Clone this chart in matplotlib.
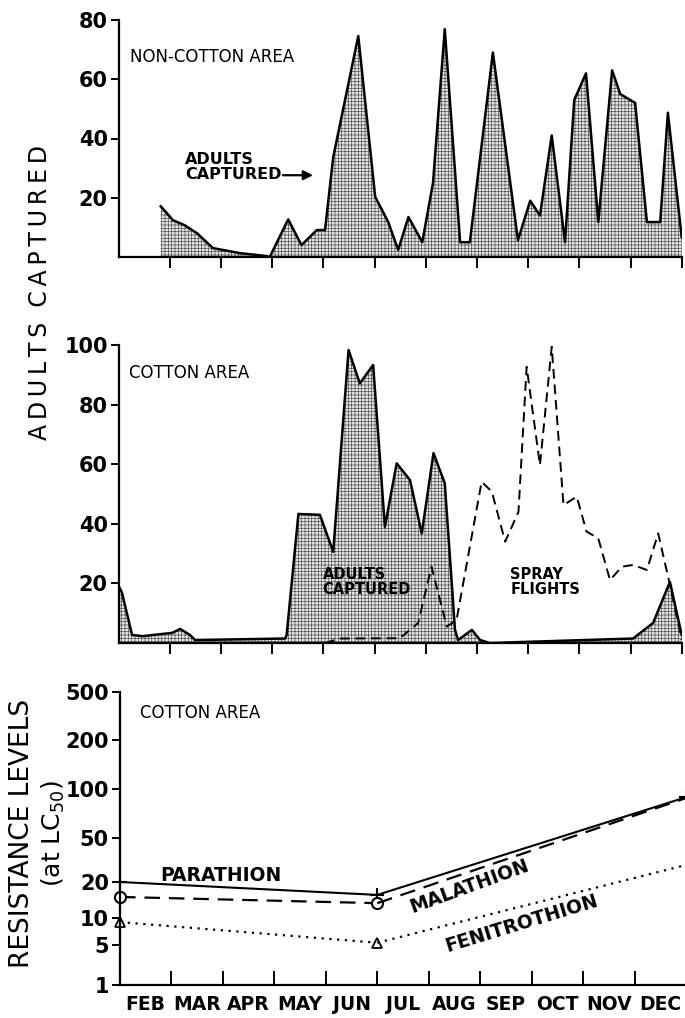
import numpy as np
import matplotlib
matplotlib.use("Agg")
import matplotlib.pyplot as plt

# months on x: 0 = start of Feb ... 11 = end of Dec
month_labels = ['FEB', 'MAR', 'APR', 'MAY', 'JUN', 'JUL', 'AUG', 'SEP', 'OCT', 'NOV', 'DEC']

# non-cotton area, adults captured
nc_x = [0.82, 1.06, 1.29, 1.53, 1.84, 2.37, 2.90, 2.95, 3.31, 3.57, 3.87, 4.03, 4.19, 4.68,
        5.01, 5.26, 5.46, 5.66, 5.93, 6.14, 6.37, 6.67, 6.86, 7.31, 7.80, 8.04, 8.23, 8.46,
        8.72, 8.90, 9.13, 9.37, 9.64, 9.80, 10.09, 10.32, 10.58, 10.73, 11.0]
nc_y = [17.1, 12.4, 10.7, 8.0, 3.0, 1.3, 0.3, 0.0, 12.7, 4.0, 9.1, 9.1, 33.7, 74.6,
        20.3, 12.0, 2.4, 13.5, 5.0, 25.0, 76.9, 5.0, 5.0, 69.0, 5.7, 19.0, 14.0, 41.0,
        5.0, 53.0, 62.0, 11.8, 63.0, 55.0, 52.0, 11.8, 11.8, 48.7, 6.7]

# cotton area, adults captured
ca_x = [0.0, 0.06, 0.26, 0.47, 1.04, 1.20, 1.39, 1.49, 3.25, 3.28, 3.51, 3.93, 4.19, 4.49,
        4.71, 4.97, 5.20, 5.43, 5.69, 5.92, 6.15, 6.37, 6.57, 6.63, 6.90, 7.06, 7.25,
        10.05, 10.44, 10.77, 11.0]
ca_y = [19.0, 17.0, 2.7, 2.3, 3.4, 4.7, 2.7, 1.0, 1.5, 2.7, 43.3, 43.0, 30.6, 98.3,
        87.1, 93.3, 39.0, 60.3, 54.7, 36.8, 63.7, 53.6, 4.4, 1.0, 4.4, 1.0, 0.0,
        1.5, 6.7, 20.5, 2.7]

# cotton area, spray flights
sp_x = [4.03, 4.32, 5.49, 5.85, 6.11, 6.41, 6.60, 7.09, 7.29, 7.55, 7.81, 7.97, 8.23, 8.46,
        8.69, 8.95, 9.14, 9.37, 9.60, 9.83, 10.05, 10.32, 10.54, 10.77, 11.0]
sp_y = [0.0, 1.5, 1.6, 6.7, 25.6, 5.5, 7.7, 54.1, 50.8, 34.0, 44.0, 92.7, 59.7, 99.4,
        46.3, 49.1, 37.4, 35.1, 21.1, 25.6, 26.2, 24.5, 36.8, 19.5, 1.0]

# resistance levels (at LC50)
res_x = [0, 5, 11]
parathion = [20, 15.6, 89]
malathion = [15, 13.3, 88]
fenitrothion = [9, 5.3, 28.5]

res_ticks = [1, 5, 10, 20, 50, 100, 200, 500]
res_pos = [0, 40, 67, 103, 147, 196, 245, 293]   # hand-drawn axis spacing

plt.rcParams['font.family'] = 'DejaVu Sans'
plt.rcParams['hatch.linewidth'] = 0.5
plt.rcParams['axes.linewidth'] = 1.6

W, H = 685, 1018
fig = plt.figure(figsize=(W / 100, H / 100), dpi=100)

def box(l, r, t, b):
    return [l / W, 1 - b / H, (r - l) / W, (b - t) / H]

def spaced(s):
    return '\u2009'.join(s)

ax1 = fig.add_axes(box(118.8, 681.7, 20, 257))
ax2 = fig.add_axes(box(118.8, 681.7, 345, 643))
ax3 = fig.add_axes(box(120, 686, 692, 985))

tickfont = dict(fontsize=15, fontweight='bold')

for ax in (ax1, ax2, ax3):
    ax.spines['top'].set_visible(False)
    ax.spines['right'].set_visible(False)
    ax.set_xlim(0, 11)
    ax.set_xticks(range(1, 12))
    ax.tick_params(axis='y', direction='out', length=6, width=1.4, pad=2)

def stipple(ax, x, y):
    ax.fill_between(x, 0, y, facecolor='#e4e4e4', edgecolor='#555555', hatch='+++++', linewidth=0)
    ax.plot(x, y, color='black', lw=1.8)

# top panel
stipple(ax1, nc_x, nc_y)
ax1.set_ylim(0, 80)
ax1.set_yticks([20, 40, 60, 80])
ax1.set_yticklabels(['20', '40', '60', '80'], **tickfont)
ax1.tick_params(axis='x', direction='out', length=8, width=1.4, labelbottom=False)
ax1.text(0.02, 0.843, 'NON-COTTON AREA', fontsize=12, va='center', transform=ax1.transAxes)
ax1.text(1.29, 30.3, 'ADULTS\nCAPTURED', fontsize=11.5, fontweight='bold', va='center',
         ha='left', linespacing=1.0)
ax1.annotate('', xy=(3.85, 27.6), xytext=(3.15, 27.6),
             arrowprops=dict(arrowstyle='-|>', color='black', lw=1.6, mutation_scale=14))

# middle panel
stipple(ax2, ca_x, ca_y)
ax2.plot(sp_x, sp_y, color='black', lw=1.4, ls=(0, (5, 3)))
ax2.set_ylim(0, 100)
ax2.set_yticks([20, 40, 60, 80, 100])
ax2.set_yticklabels(['20', '40', '60', '80', '100'], **tickfont)
ax2.tick_params(axis='x', direction='out', length=8, width=1.4, labelbottom=False)
ax2.text(0.2, 90.5, 'COTTON AREA', fontsize=12, va='center')
ax2.text(3.98, 20.5, 'ADULTS\nCAPTURED', fontsize=10.5, va='center',
         fontweight='bold', linespacing=1.0)
ax2.text(7.65, 20.5, 'SPRAY\nFLIGHTS', fontsize=10.5, va='center',
         fontweight='bold', linespacing=1.0)

# bottom panel
def fwd(v):
    return np.interp(np.log10(np.clip(v, 1e-6, None)), np.log10(res_ticks), res_pos)

def inv(p):
    return 10 ** np.interp(p, res_pos, np.log10(res_ticks))

ax3.set_yscale('function', functions=(fwd, inv))
ax3.set_ylim(1, 500)
ax3.set_yticks(res_ticks)
ax3.set_yticklabels([str(t) for t in res_ticks], **tickfont)
ax3.yaxis.set_minor_locator(matplotlib.ticker.NullLocator())
ax3.tick_params(axis='x', which='major', direction='in', length=10, width=1.4, labelbottom=False)
ax3.set_xticks(np.arange(11) + 0.5, minor=True)
ax3.set_xticklabels(month_labels, minor=True, fontsize=13.5, fontweight='bold')
ax3.tick_params(axis='x', which='minor', length=0, pad=7)

ax3.plot(res_x, parathion, color='black', lw=1.5, marker='+', ms=10, mew=1.5, clip_on=False)
ax3.plot(res_x[:2], malathion[:2], color='black', lw=1.6, ls=(0, (7, 4)), marker='o', ms=8,
         mfc='white', mew=1.5, clip_on=False)
ax3.plot(res_x[1:], malathion[1:], color='black', lw=1.6, ls=(0, (7, 4)))
ax3.plot(res_x[:2], fenitrothion[:2], color='black', lw=1.6, ls=(0, (1, 2.5)), marker='^', ms=7,
         mfc='white', mew=1.3, clip_on=False)
ax3.plot(res_x[1:], fenitrothion[1:], color='black', lw=1.6, ls=(0, (1, 2.5)))

ax3.text(0.035, 0.93, 'COTTON AREA', fontsize=12, va='center', transform=ax3.transAxes)
ax3.text(0.78, 20.5, 'PARATHION', fontsize=13.5, fontweight='bold', va='baseline')
ax3.text(5.68, 11, 'MALATHION', fontsize=13.5, fontweight='bold', rotation=20,
         rotation_mode='anchor', va='baseline', ha='left')
ax3.text(6.36, 3.8, 'FENITROTHION', fontsize=13.5, fontweight='bold', rotation=17,
         rotation_mode='anchor', va='baseline', ha='left')

fig.text(40 / W, 1 - 292 / H, spaced('ADULTS') + '  ' + spaced('CAPTURED'), rotation=90,
         fontsize=17, va='center', ha='center')
fig.text(22 / W, 1 - 833 / H, 'RESISTANCE LEVELS', rotation=90,
         fontsize=19, va='center', ha='center')
fig.text(53 / W, 1 - 833 / H, '(at LC$_{\\mathregular{50}}$)', rotation=90, fontsize=18,
         va='center', ha='center')

fig.savefig('out.png', dpi=100)
